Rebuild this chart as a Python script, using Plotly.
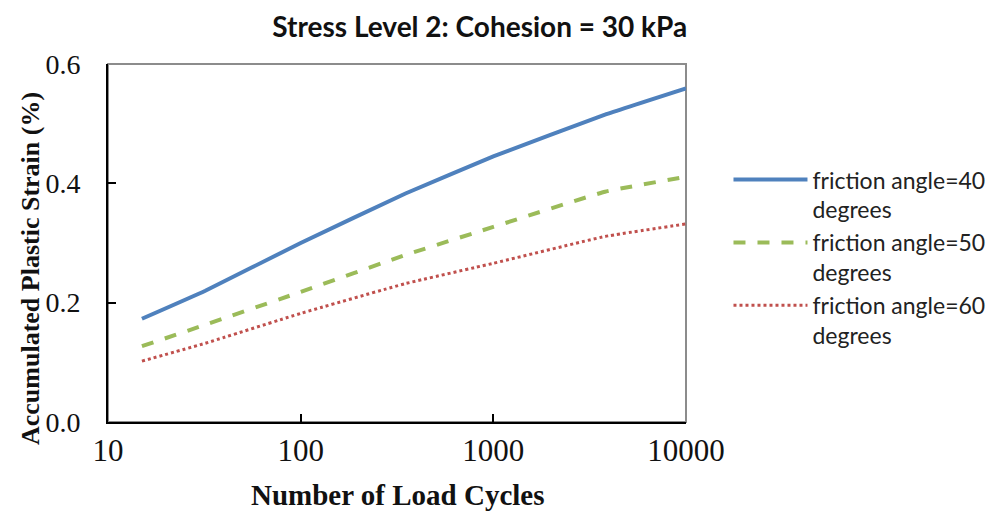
"""Accumulated plastic strain vs load cycles (stress level 2)."""

import plotly.graph_objects as go

cycles = [15, 32, 100, 350, 1000, 3800, 10000]
strain_40 = [0.173, 0.220, 0.300, 0.383, 0.445, 0.515, 0.559]
strain_50 = [0.127, 0.163, 0.218, 0.280, 0.327, 0.386, 0.411]
strain_60 = [0.102, 0.132, 0.182, 0.232, 0.266, 0.311, 0.332]
series_names = [
    "friction angle=40<br>degrees",
    "friction angle=50<br>degrees",
    "friction angle=60<br>degrees",
]
x_ticks = [10, 100, 1000, 10000]
x_labels = ["10", "100", "1000", "10000"]

serif = "Liberation Serif, Times New Roman, serif"
sans = "Lato, Carlito, Calibri, sans-serif"

fig = go.Figure()
styles = [
    {"color": "#4F81BD", "width": 4, "dash": "solid"},
    {"color": "#9BBB59", "width": 4, "dash": "dash"},
    {"color": "#C0504D", "width": 3, "dash": "dot"},
]
for name, ys, line in zip(series_names, [strain_40, strain_50, strain_60], styles):
    fig.add_trace(
        go.Scatter(
            x=cycles,
            y=ys,
            mode="lines",
            name=name,
            line={**line, "shape": "spline", "smoothing": 0.3},
        )
    )

# grey frame on top/right, black axes on left/bottom
fig.add_shape(
    type="rect", xref="paper", yref="paper", x0=0, y0=0, x1=1, y1=1,
    line={"color": "#8c8c8c", "width": 2}, layer="below",
)

axis_common = {
    "showgrid": False,
    "showline": True,
    "linecolor": "black",
    "linewidth": 2,
    "ticks": "inside",
    "ticklen": 8,
    "tickwidth": 2,
    "tickcolor": "black",
    "zeroline": False,
    "automargin": False,
}

fig.update_layout(
    width=989,
    height=506,
    margin={"l": 100, "r": 311, "t": 56, "b": 92, "autoexpand": False},
    plot_bgcolor="white",
    paper_bgcolor="white",
    title={
        "text": "<b>Stress Level 2: Cohesion = 30 kPa</b>",
        "x": 0.477,
        "xanchor": "center",
        "y": 0.962,
        "yanchor": "middle",
        "font": {"family": sans, "size": 28, "color": "#111"},
    },
    xaxis={
        **axis_common,
        "type": "log",
        "range": [1, 4],
        "tickvals": x_ticks,
        "ticktext": x_labels,
        "tickfont": {"family": serif, "size": 31, "color": "#111"},
    },
    yaxis={
        **axis_common,
        "range": [0, 0.6],
        "dtick": 0.2,
        "tickformat": ".1f",
        "tickfont": {"family": serif, "size": 28, "color": "#111"},
        "ticklabelstandoff": 20,
    },
    legend={
        "x": 1.0735,
        "y": 0.737,
        "xanchor": "left",
        "yanchor": "top",
        "valign": "top",
        "itemwidth": 74,
        "font": {"family": sans, "size": 23, "color": "#222"},
        "bgcolor": "rgba(0,0,0,0)",
        "tracegroupgap": 8,
    },
    annotations=[
        {
            "text": "<b>Number of Load Cycles</b>",
            "xref": "paper", "yref": "paper",
            "x": 0.5, "y": -0.204,
            "xanchor": "center", "yanchor": "middle",
            "showarrow": False,
            "font": {"family": serif, "size": 29, "color": "#111"},
        },
        {
            "text": "<b>Accumulated Plastic Strain (%)</b>",
            "xref": "paper", "yref": "paper",
            "x": -0.135, "y": 0.43,
            "xanchor": "center", "yanchor": "middle",
            "textangle": -90,
            "showarrow": False,
            "font": {"family": serif, "size": 26, "color": "#111"},
        },
    ],
)

fig.write_html("out.html")
